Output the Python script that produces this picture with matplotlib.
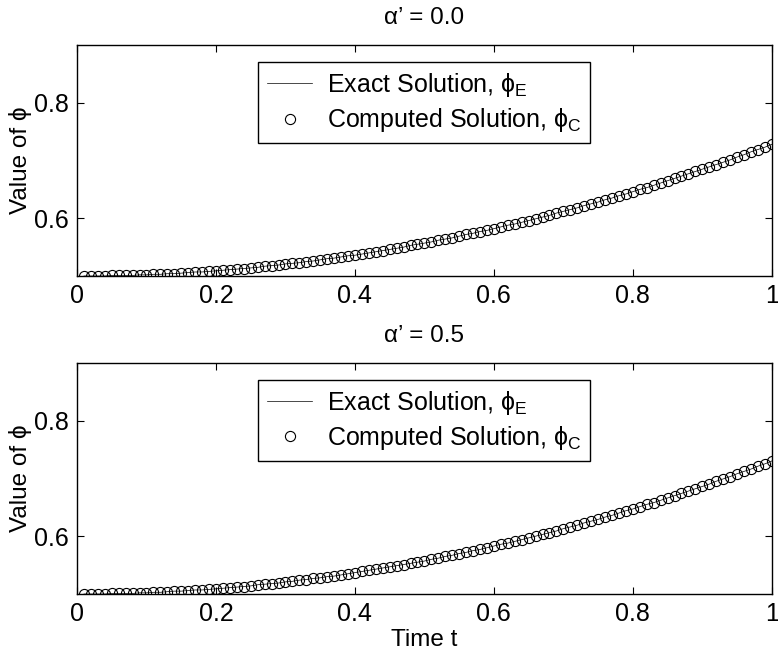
import numpy as np
import matplotlib
matplotlib.use("Agg")
import matplotlib.pyplot as plt

plt.rcParams['font.family'] = ['Liberation Sans', 'DejaVu Sans']
plt.rcParams['mathtext.fontset'] = 'custom'
plt.rcParams['mathtext.rm'] = 'Liberation Sans'
plt.rcParams['mathtext.it'] = 'Liberation Sans'
plt.rcParams['mathtext.bf'] = 'Liberation Sans:bold'
plt.rcParams['mathtext.fallback'] = 'stixsans'

# ---- data ----
t = [round(0.01 * i, 2) for i in range(1, 101)]

phi_top = [
    0.500, 0.500, 0.500, 0.500, 0.501, 0.501, 0.501, 0.501, 0.502, 0.502,
    0.503, 0.503, 0.504, 0.504, 0.505, 0.506, 0.507, 0.507, 0.508, 0.509,
    0.510, 0.511, 0.512, 0.513, 0.514, 0.515, 0.517, 0.518, 0.519, 0.521,
    0.522, 0.523, 0.525, 0.526, 0.528, 0.530, 0.531, 0.533, 0.535, 0.536,
    0.538, 0.540, 0.542, 0.544, 0.546, 0.548, 0.550, 0.553, 0.555, 0.557,
    0.559, 0.562, 0.564, 0.566, 0.569, 0.572, 0.574, 0.577, 0.579, 0.582,
    0.585, 0.588, 0.590, 0.593, 0.596, 0.599, 0.602, 0.605, 0.609, 0.612,
    0.615, 0.618, 0.622, 0.625, 0.628, 0.632, 0.635, 0.639, 0.642, 0.646,
    0.650, 0.653, 0.657, 0.661, 0.665, 0.669, 0.673, 0.677, 0.681, 0.685,
    0.689, 0.693, 0.697, 0.701, 0.706, 0.710, 0.715, 0.719, 0.723, 0.728,
]

phi_bottom = [
    0.500, 0.500, 0.500, 0.500, 0.501, 0.501, 0.501, 0.501, 0.502, 0.502,
    0.503, 0.503, 0.504, 0.505, 0.505, 0.506, 0.507, 0.507, 0.508, 0.509,
    0.510, 0.511, 0.512, 0.513, 0.514, 0.516, 0.517, 0.518, 0.519, 0.521,
    0.522, 0.524, 0.525, 0.527, 0.528, 0.530, 0.531, 0.533, 0.535, 0.537,
    0.539, 0.541, 0.543, 0.545, 0.547, 0.549, 0.551, 0.553, 0.555, 0.557,
    0.560, 0.562, 0.565, 0.567, 0.570, 0.572, 0.575, 0.577, 0.580, 0.583,
    0.586, 0.588, 0.591, 0.594, 0.597, 0.600, 0.603, 0.606, 0.609, 0.613,
    0.616, 0.619, 0.623, 0.626, 0.629, 0.633, 0.636, 0.640, 0.644, 0.647,
    0.651, 0.655, 0.658, 0.662, 0.666, 0.670, 0.674, 0.678, 0.682, 0.686,
    0.690, 0.695, 0.699, 0.703, 0.708, 0.712, 0.716, 0.721, 0.725, 0.730,
]

titles = ["α’ = 0.0", "α’ = 0.5"]
series = [phi_top, phi_bottom]
xticks = [0, 0.2, 0.4, 0.6, 0.8, 1.0]
xticklabels = ["0", "0.2", "0.4", "0.6", "0.8", "1"]
yticks = [0.6, 0.8]
yticklabels = ["0.6", "0.8"]

FS = 18

fig = plt.figure(figsize=(7.78, 6.55), dpi=100)
ax_top = fig.add_axes([0.099, 0.5786, 0.893, 0.3527])
ax_bot = fig.add_axes([0.099, 0.0931, 0.893, 0.3532])

for ax, vals, title in zip([ax_top, ax_bot], series, titles):
    ax.plot(t, vals, color='black', linewidth=0.5,
            label=r"Exact Solution, $\phi_\mathrm{E}$")
    ax.plot(t, vals, linestyle='none', marker='o', markersize=7.3,
            markerfacecolor='none', markeredgecolor='black', markeredgewidth=0.8,
            label=r"Computed Solution, $\phi_\mathrm{C}$")
    ax.set_xlim(0, 1)
    ax.set_ylim(0.5, 0.9)
    ax.set_xticks(xticks)
    ax.set_xticklabels(xticklabels)
    ax.set_yticks(yticks)
    ax.set_yticklabels(yticklabels)
    ax.tick_params(direction='in', length=5, width=0.8, top=True, right=True,
                   labelsize=FS, pad=6)
    for s in ax.spines.values():
        s.set_linewidth(1.0)
    ax.set_title(title, fontsize=FS - 0.5, pad=15)
    ax.set_ylabel("Value of ϕ", fontsize=FS - 0.5, labelpad=1)
    leg = ax.legend(loc='upper center', bbox_to_anchor=(0.5, 0.926),
                    fontsize=FS, frameon=True, fancybox=False,
                    edgecolor='black', framealpha=1, handlelength=1.8,
                    handletextpad=0.6, borderpad=0.35, labelspacing=0.3,
                    borderaxespad=0)
    leg.get_frame().set_linewidth(1.0)

ax_bot.set_xlabel("Time t", fontsize=FS - 0.5, labelpad=2)

fig.savefig("out.png", dpi=100)
